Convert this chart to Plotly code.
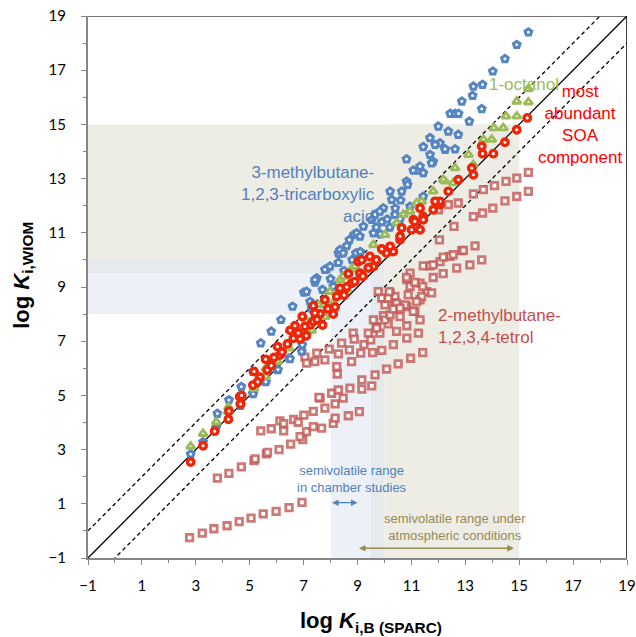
import plotly.graph_objects as go

# ---------------- data ----------------
# 2-methylbutane-1,2,3,4-tetrol (squares)
tetrol_x = [2.77, 3.24, 3.67, 4.16, 4.61, 5.05, 5.50, 5.98, 6.46, 6.94,
            3.80, 4.23, 4.69, 5.16, 5.20, 5.62, 5.66, 6.09, 6.52, 6.97, 6.87, 7.11, 7.36, 7.67, 8.10, 8.17, 8.66, 9.07,
            5.41, 5.80, 6.12, 6.26, 6.26, 6.63, 6.80, 7.01, 7.36, 7.79, 8.17, 7.61, 8.47, 8.04, 8.29, 8.72, 9.16, 9.53,
            9.16, 9.65, 10.08, 10.51, 10.97, 11.42, 7.57,
            8.25, 8.23, 7.05, 7.11, 7.42, 7.49, 7.79, 7.95, 8.29, 8.41, 8.70, 8.78, 8.84, 8.88, 9.12, 9.24, 9.49, 9.56,
            9.90, 10.33, 10.83, 9.40, 9.69, 9.83, 9.96, 10.14, 10.45, 10.83, 11.26, 11.32, 11.13, 10.83, 10.37, 9.59,
            10.02, 10.21, 10.58, 9.71,
            9.77, 9.90, 10.21, 10.39, 10.45, 10.33, 10.76, 11.07, 10.83, 11.32, 11.57, 10.95, 10.88, 11.32, 10.95,
            11.13, 11.42, 11.75, 11.38, 11.19, 10.02, 10.58, 10.14, 10.18,
            10.82, 11.44, 11.81, 12.18, 12.68, 13.17, 13.61, 11.69, 12.06, 12.43, 12.87, 13.36, 11.81, 12.18, 12.55,
            12.93, 12.04, 12.58, 12.00, 12.37, 12.74, 13.30, 13.64, 14.02, 14.47, 14.91, 15.34, 13.30, 13.67, 14.08,
            14.51, 14.91, 15.34]
tetrol_y = [-0.25, -0.08, 0.08, 0.19, 0.34, 0.47, 0.63, 0.72, 0.86, 1.05,
            1.95, 2.12, 2.36, 2.59, 2.66, 2.84, 2.90, 3.00, 3.20, 3.37, 3.48, 3.66, 3.85, 3.79, 3.97, 4.16, 4.25, 4.40,
            3.69, 3.77, 4.06, 3.96, 3.69, 4.11, 4.01, 4.27, 4.41, 4.53, 4.69, 4.90, 4.90, 5.08, 5.20, 5.27, 5.23, 5.35,
            5.57, 5.76, 5.97, 6.16, 6.37, 6.58, 4.93,
            5.79, 6.06, 6.41, 6.19, 6.25, 6.56, 6.31, 6.71, 6.53, 6.93, 6.68, 6.25, 7.30, 7.08, 6.56, 6.87, 7.05, 6.58,
            6.66, 6.87, 7.11, 7.30, 7.54, 7.30, 7.94, 7.64, 7.36, 7.57, 7.30, 7.79, 8.10, 8.28, 8.46, 7.79,
            7.79, 7.97, 7.91, 7.48,
            8.83, 8.59, 8.78, 8.65, 8.40, 8.18, 8.34, 8.10, 9.27, 9.14, 8.83, 9.02, 8.71, 8.53, 9.51,
            9.17, 9.02, 8.78, 8.65, 8.46, 8.34, 8.22, 8.59, 8.83,
            9.35, 9.78, 9.35, 9.49, 9.70, 9.82, 10.00, 9.78, 9.94, 10.13, 10.34, 10.52, 9.82, 10.10, 10.19,
            10.35, 10.74, 11.24, 11.85, 12.04, 12.10, 11.60, 11.73, 11.91, 12.18, 12.34, 12.53, 12.44, 12.59, 12.74,
            12.90, 13.02, 13.23]

# 3-methylbutane-1,2,3-tricarboxylic acid (blue)
acid_x = [2.81, 3.27, 3.80, 4.23, 4.69, 5.12, 5.12, 5.59, 6.03, 6.46, 6.95, 5.41, 5.80, 6.16, 6.59, 7.01, 7.42,
          7.86, 8.29, 8.35, 8.60, 8.70, 8.87, 8.94, 6.93, 7.36, 7.49, 7.11, 8.10, 7.24, 7.79, 7.98, 8.29, 7.42,
          3.75, 4.66, 5.13, 5.60, 6.05, 6.50,
          8.35, 8.97, 9.22, 9.65, 9.96, 10.27, 10.21, 10.64, 10.82, 10.86, 10.39, 10.58, 9.59, 10.95, 10.82, 11.26,
          11.44, 11.69, 11.81, 12.06, 12.25, 12.37, 9.09, 8.47, 9.53, 9.83, 11.07, 11.32, 11.75, 11.44,
          9.70, 9.90, 10.10, 10.20, 9.85, 10.40, 10.60, 7.70, 8.00, 8.50, 8.80, 9.10, 7.30,
          11.44, 11.69, 11.88, 12.00, 12.74, 12.25, 12.62, 12.44, 12.62, 12.75, 13.15, 13.61, 12.87, 13.27, 13.30,
          13.64, 14.02, 14.47, 14.91, 15.34]
acid_y = [2.83, 3.28, 4.33, 4.83, 5.32, 5.07, 5.88, 5.51, 5.94, 6.37, 6.86, 6.93, 7.36, 7.79, 8.28, 8.80, 9.17,
          9.66, 9.90, 10.23, 10.52, 10.74, 10.93, 10.25, 6.62, 7.79, 9.33, 8.83, 9.02, 8.46, 9.64, 9.76, 10.25, 9.27,
          3.80, 4.62, 5.05, 5.50, 5.95, 6.35,
          10.37, 10.99, 11.24, 11.67, 11.91, 12.22, 12.53, 12.53, 12.90, 12.78, 11.67, 11.51, 10.99, 11.97, 13.72, 13.30,
          13.21, 13.88, 13.63, 14.31, 14.07, 14.74, 10.87, 10.25, 11.48, 11.79, 13.30, 13.45, 13.57, 12.34,
          11.20, 11.40, 11.50, 11.20, 10.95, 11.90, 12.20, 8.90, 9.30, 9.60, 10.00, 10.30, 8.20,
          14.17, 14.50, 14.25, 14.93, 14.62, 14.09, 14.09, 15.40, 15.40, 15.40, 15.11, 15.57, 15.85, 16.06, 16.40,
          16.47, 16.96, 17.42, 17.94, 18.40]

# 1-octanol (green)
octanol_x = [2.81, 3.27, 3.76, 4.21, 4.66, 5.16, 5.59, 6.03, 6.46, 6.95, 6.74, 7.11, 7.55, 7.98, 8.35, 8.78, 8.47,
             8.91, 6.87, 9.59, 10.02, 10.45, 10.95, 11.38, 11.81, 12.25, 12.62, 13.12, 13.30, 12.18, 12.55, 11.19,
             10.70, 13.67, 13.98, 14.06, 14.41, 14.51, 14.91, 14.91, 15.34, 15.34,
             4.20, 4.70, 5.60, 7.30, 7.80, 8.10, 8.60, 9.10, 9.50, 10.00]
octanol_y = [3.12, 3.59, 4.02, 4.56, 4.77, 5.26, 5.69, 6.25, 6.74, 7.30, 7.32, 7.73, 8.34, 8.83, 9.27, 9.66, 9.39,
             9.76, 7.11, 10.56, 10.93, 11.36, 11.79, 12.16, 12.53, 12.90, 13.39, 13.88, 13.51, 12.96, 12.84, 12.10,
             11.67, 14.44, 14.44, 14.87, 14.87, 15.30, 15.30, 15.85, 15.82, 16.31,
             4.40, 5.00, 6.00, 7.40, 7.90, 8.40, 8.90, 9.40, 9.80, 10.30]

# most abundant SOA component (red)
soa_x = [2.81, 3.27, 3.70, 4.21, 4.23, 4.63, 4.66, 5.12, 5.16, 5.65, 5.59, 6.03, 6.50, 6.95, 6.12, 5.38,
         7.36, 7.79, 8.23, 8.66, 9.03, 8.35, 8.17, 7.61, 7.24, 6.68, 6.87, 10.33, 9.16, 9.59, 9.09, 8.78, 8.35,
         7.42, 7.36, 7.05, 6.62, 9.46, 10.21, 10.58, 11.01, 11.32, 11.44, 11.81, 12.06, 12.37, 12.74, 10.64,
         11.07, 11.44, 11.32, 12.06, 13.30, 13.64, 14.04, 13.61, 14.47, 14.91, 15.30, 13.24, 11.88, 11.13, 10.58,
         10.08, 5.80, 6.20, 6.40, 6.80, 7.10, 7.50, 7.70, 7.90, 8.10, 8.50, 8.60, 8.90, 9.20, 9.40, 9.70, 9.90,
         5.30, 5.90, 4.70]
soa_y = [2.54, 3.14, 3.68, 4.12, 4.42, 4.95, 4.68, 5.38, 5.88, 5.94, 6.33, 6.80, 7.40, 7.91, 6.49, 5.67,
         8.31, 8.53, 8.65, 9.49, 9.94, 8.90, 8.26, 8.01, 7.60, 7.57, 7.08, 10.31, 10.00, 9.76, 9.51, 9.14, 8.96,
         8.04, 7.73, 7.54, 7.11, 10.13, 10.50, 10.74, 11.11, 11.11, 11.60, 11.85, 12.04, 12.53, 12.96, 11.18,
         11.48, 11.48, 11.91, 12.16, 13.14, 13.92, 13.92, 14.19, 14.34, 14.80, 15.24, 13.39, 12.16, 11.42, 10.87,
         10.25, 6.10, 6.60, 6.90, 7.30, 7.20, 7.80, 7.60, 8.20, 8.00, 8.70, 9.00, 9.20, 9.40, 9.70, 10.00, 10.40,
         5.50, 6.40, 5.00]

axis_range = [-1, 19]
tick_values = [-1, 1, 3, 5, 7, 9, 11, 13, 15, 17, 19]
diag_offsets = [0, 1, -1]  # 1:1 line and +/- one order of magnitude

atmos_band = [10, 15]
chamber_band = [8, 9.5]
overlap_band = [9.5, 10]
chamber_arrow = [8.0, 9.0]
atmos_arrow = [9.0, 14.8]

BEIGE = "#EEEDE5"
LBLUE = "#EDF1F7"
GREY = "#E6EAEC"

fig = go.Figure()

# background shading (L shaped bands)
def band(x0, x1, y0, y1, color):
    fig.add_shape(type="rect", xref="x", yref="y", x0=x0, x1=x1, y0=y0, y1=y1,
                  fillcolor=color, line=dict(width=0), layer="below")

lo = axis_range[0]
band(lo, atmos_band[1], atmos_band[0], atmos_band[1], BEIGE)
band(atmos_band[0], atmos_band[1], lo, atmos_band[1], BEIGE)
band(lo, chamber_band[1], chamber_band[0], chamber_band[1], LBLUE)
band(chamber_band[0], chamber_band[1], lo, chamber_band[1], LBLUE)
band(lo, overlap_band[1], overlap_band[0], overlap_band[1], GREY)
band(overlap_band[0], overlap_band[1], lo, overlap_band[1], GREY)

# reference lines
for off in diag_offsets:
    fig.add_trace(go.Scatter(
        x=axis_range, y=[v + off for v in axis_range], mode="lines",
        line=dict(color="black", width=1.3, dash=None if off == 0 else "4px,3px"),
        hoverinfo="skip", showlegend=False))

# data series
fig.add_trace(go.Scatter(x=tetrol_x, y=tetrol_y, mode="markers", showlegend=False,
                         marker=dict(symbol="square", size=6.5, color="white",
                                     line=dict(color="rgba(192,88,84,0.8)", width=2.8))))
fig.add_trace(go.Scatter(x=acid_x, y=acid_y, mode="markers", showlegend=False,
                         marker=dict(symbol="pentagon", size=7, color="white",
                                     line=dict(color="#5585C2", width=3))))
fig.add_trace(go.Scatter(x=octanol_x, y=octanol_y, mode="markers", showlegend=False,
                         marker=dict(symbol="triangle-up", size=7.5, color="white",
                                     line=dict(color="#9BBB59", width=2.8))))
fig.add_trace(go.Scatter(x=soa_x, y=soa_y, mode="markers", showlegend=False,
                         marker=dict(symbol="circle", size=6.5, color="white",
                                     line=dict(color="#EE2608", width=3.4))))

# frame top and right
fig.add_shape(type="line", xref="x", yref="y", x0=axis_range[0], x1=axis_range[1],
              y0=axis_range[1], y1=axis_range[1], line=dict(color="#444444", width=1.5))
fig.add_shape(type="line", xref="x", yref="y", x0=axis_range[1], x1=axis_range[1],
              y0=axis_range[0], y1=axis_range[1], line=dict(color="black", width=1.5))

TXT = "Liberation Sans"
def note(x, y, text, color, size, xanchor="center", align="center"):
    fig.add_annotation(x=x, y=y, xref="x", yref="y", text=text, showarrow=False,
                       font=dict(family=TXT, size=size, color=color),
                       xanchor=xanchor, yanchor="middle", align=align)

note(9.72, 12.40, "3-methylbutane-<br>1,2,3-tricarboxylic<br>acid", "#4F81BD", 17, "right", "right")
note(15.18, 16.47, "1-octanol", "#9BBB59", 17)
note(17.26, 14.99, "most<br>abundant<br>SOA<br>component", "#FF0000", 17)
note(11.91, 7.55, "2-methylbutane-<br>1,2,3,4-tetrol", "#C0504D", 17, "left", "left")
note(8.80, 1.90, "semivolatile range<br>in chamber studies", "#4F81BD", 13)
note(12.62, 0.15, "semivolatile range under<br>atmospheric conditions", "#948A54", 13)

# double-headed arrows
for (xs, yv, col) in [(chamber_arrow, 1.04, "#4F81BD"), (atmos_arrow, -0.64, "#948A54")]:
    fig.add_annotation(x=xs[1], y=yv, ax=xs[0], ay=yv, xref="x", yref="y", axref="x", ayref="y",
                       text="", showarrow=True, arrowhead=2, startarrowhead=2, arrowside="end+start",
                       arrowsize=1, arrowwidth=1.3, arrowcolor=col)

# axis titles
fig.add_annotation(x=0.525, y=-0.118, xref="paper", yref="paper", showarrow=False,
                   text="<b>log <i>K</i><sub>i,B (SPARC)</sub></b>",
                   font=dict(family=TXT, size=22, color="black"), xanchor="center", yanchor="middle")
fig.add_annotation(x=-0.121, y=0.522, xref="paper", yref="paper", showarrow=False, textangle=-90,
                   text="<b>log <i>K</i><sub>i,WIOM</sub></b>",
                   font=dict(family=TXT, size=22, color="black"), xanchor="center", yanchor="middle")

axis_common = dict(range=axis_range, tickmode="array", tickvals=tick_values, automargin=False,
                   ticklabeloverflow="allow",
                   showgrid=False, zeroline=False, showline=True, linecolor="#878787", linewidth=2,
                   ticks="outside", ticklen=5, tickwidth=1.2, tickcolor="#878787",
                   minor=dict(ticks="outside", ticklen=3, tickcolor="#878787", dtick=1, tick0=-1, showgrid=False),
                   tickfont=dict(family="Lato", size=15, color="black"))

fig.update_layout(
    width=636, height=637,
    margin=dict(l=88, r=9, t=16, b=79),
    paper_bgcolor="white", plot_bgcolor="white",
    xaxis=dict(**axis_common, ticklabelstandoff=8),
    yaxis=dict(**axis_common, ticklabelstandoff=12),
)

# remove the default page margin so the figure fills the window exactly; hide the mode bar
fig.write_html("out.html",
               config={"displayModeBar": False},
               post_script="document.body.style.margin='0';document.body.style.overflow='hidden';")
